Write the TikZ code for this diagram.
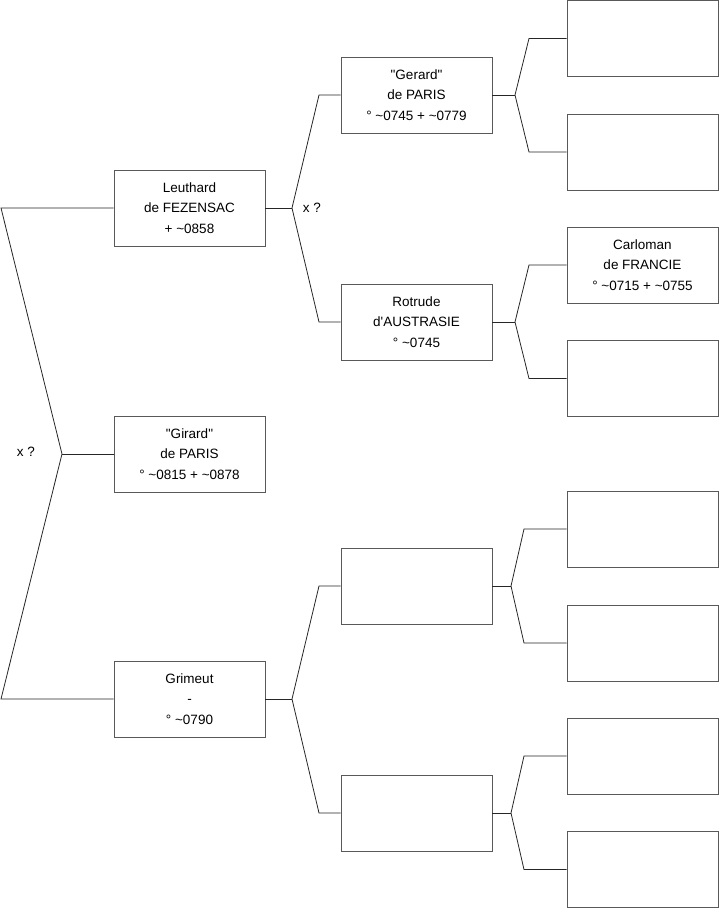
\documentclass[tikz,border=0pt]{standalone}
\usepackage{fontspec}
\setmainfont{Liberation Sans}[Ligatures=TeXOff]
\begin{document}
\begin{tikzpicture}[x=1pt,y=-1pt,
  person/.style={draw=black!65,line width=0.9pt,fill=white,minimum width=151pt,minimum height=76pt,inner sep=0pt,align=center,font=\fontsize{13.5}{20.5}\selectfont},
  link/.style={draw=black!85,line width=0.8pt},
  lbl/.style={font=\fontsize{13.5}{16}\selectfont,inner sep=0pt}]
\useasboundingbox (0,0) rectangle (719,908);
% generation 1
\node[person] (L) at (189.5,208) {Leuthard\\de FEZENSAC\\+ \textasciitilde0858};
\node[person] (Gi) at (189.5,454) {\symbol{34}Girard\symbol{34}\\de PARIS\\° \textasciitilde0815 + \textasciitilde0878};
\node[person] (Gr) at (189.5,699) {Grimeut\\-\\° \textasciitilde0790};
% generation 2
\node[person] (Ge) at (416.5,95) {\symbol{34}Gerard\symbol{34}\\de PARIS\\° \textasciitilde0745 + \textasciitilde0779};
\node[person] (Ro) at (416.5,322) {Rotrude\\d\symbol{39}AUSTRASIE\\° \textasciitilde0745};
\node[person] (E1) at (416.5,586) {};
\node[person] (E2) at (416.5,813) {};
% generation 3
\node[person] (A1) at (642.5,38.5) {};
\node[person] (A2) at (642.5,152) {};
\node[person] (A3) at (642.5,265) {Carloman\\de FRANCIE\\° \textasciitilde0715 + \textasciitilde0755};
\node[person] (A4) at (642.5,378.5) {};
\node[person] (A5) at (642.5,529) {};
\node[person] (A6) at (642.5,643) {};
\node[person] (A7) at (642.5,756) {};
\node[person] (A8) at (642.5,869.5) {};
% junctions
\coordinate (j0) at (62,454);
\coordinate (t0) at (1,208);
\coordinate (b0) at (1,699);
\coordinate (jL) at (292,208);
\coordinate (jGr) at (292,699);
\coordinate (jGe) at (515,95);
\coordinate (jRo) at (515,322);
\coordinate (jE1) at (511,586);
\coordinate (jE2) at (511,813);
% left bracket
\draw[link] (L.west) -- (t0) -- (j0) -- (b0) -- (Gr.west);
\draw[link] (j0) -- (Gi.west);
\node[lbl] at (26,452) {x ?};
% Leuthard parents
\draw[link] (L.east) -- (jL);
\draw[link] (Ge.west) -- (319,95) -- (jL) -- (319,322) -- (Ro.west);
\node[lbl] at (312,208) {x ?};
% Grimeut parents
\draw[link] (Gr.east) -- (jGr);
\draw[link] (E1.west) -- (319,586) -- (jGr) -- (319,813) -- (E2.west);
% generation 3 brackets
\draw[link] (Ge.east) -- (jGe);
\draw[link] (A1.west) -- (529,38.5) -- (jGe) -- (529,152) -- (A2.west);
\draw[link] (Ro.east) -- (jRo);
\draw[link] (A3.west) -- (529,265) -- (jRo) -- (529,378.5) -- (A4.west);
\draw[link] (E1.east) -- (jE1);
\draw[link] (A5.west) -- (524,529) -- (jE1) -- (524,643) -- (A6.west);
\draw[link] (E2.east) -- (jE2);
\draw[link] (A7.west) -- (524,756) -- (jE2) -- (524,869.5) -- (A8.west);
\end{tikzpicture}
\end{document}
